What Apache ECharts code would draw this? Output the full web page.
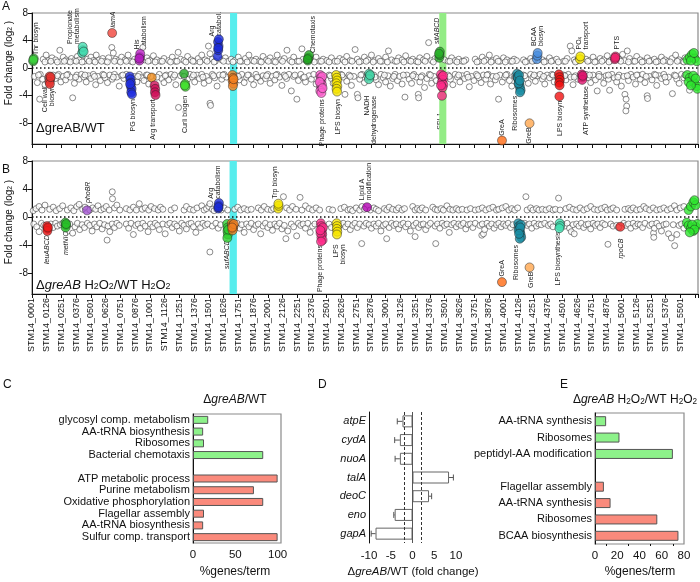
<!DOCTYPE html>
<html>
<head>
<meta charset="utf-8">
<script src="https://cdn.jsdelivr.net/npm/echarts@6.0.0/dist/echarts.min.js"></script>
<style>
  html, body { margin: 0; padding: 0; background: #fff; }
  #chart { width: 700px; height: 582px; }
</style>
</head>
<body>
<div id="chart"></div>
<script>
const FONT = '"Liberation Sans", Arial, Helvetica, sans-serif'

// gene axis (STM14_xxxx), ticks every 125 genes
const geneMax = 5650
const geneStep = 125
const lastGeneLabel = 5500
const fcTicks = [-8, -4, 0, 4, 8]

// ---- panel A: ΔgreAB/WT, all genes (open circles) ----
const openAUp = [
  [95,1.3],[120,1.9],[140,1.1],[170,1.5],[200,1.2],[236,2.6],[250,1.0],[265,1.6],[290,1.2],[310,1.0],[335,1.4],[360,1.1],[385,1.7],[400,1.2],[445,1.0],[470,1.3],[500,1.6],[520,1.1],[545,1.9],[570,1.2],[600,1.4],[625,1.0],[650,1.5],[677,3.0],[690,2.2],[710,1.3],[735,1.1],[760,1.6],[790,1.2],[815,1.9],[840,1.0],[870,1.3],[940,3.0],[955,1.2],[975,1.5],[1000,1.1],[1030,1.8],[1060,1.2],[1090,1.0],[1120,1.4],[1160,1.1],[1190,1.6],[1215,1.0],[1240,2.3],[1260,1.3],[1290,1.1],[1320,1.7],[1350,1.2],[1380,1.0],[1410,1.4],[1440,1.9],[1470,1.2],[1497,3.2],[1510,2.1],[1530,1.3],[1555,1.0],[1610,1.2],[1640,1.5],[1665,1.0],[1690,1.3],[1720,1.1],[1750,1.6],[1780,1.0],[1810,1.4],[1840,1.9],[1870,1.1],[1900,1.3],[1930,1.0],[1960,1.7],[1990,1.2],[2020,1.5],[2050,1.0],[2080,1.9],[2110,1.2],[2140,1.4],[2163,2.6],[2190,1.1],[2220,1.6],[2250,1.0],[2290,2.8],[2300,1.3],[2380,1.2],[2410,1.6],[2440,1.0],[2470,1.3],[2500,1.1],[2540,1.5],[2570,1.0],[2610,1.4],[2640,1.2],[2670,1.7],[2700,1.1],[2741,2.7],[2760,1.3],[2790,1.0],[2820,1.6],[2850,1.2],[2880,1.9],[2910,1.1],[2940,1.4],[2970,1.0],[3000,1.6],[3024,2.5],[3050,1.2],[3080,1.0],[3110,1.5],[3140,1.2],[3170,1.8],[3200,1.1],[3230,1.3],[3260,1.0],[3290,1.5],[3320,1.2],[3350,1.7],[3365,3.7],[3390,1.1],[3420,1.4],[3500,1.2],[3530,1.0],[3560,1.5],[3590,1.1],[3620,1.3],[3650,1.0],[3680,1.2],[3760,1.3],[3790,1.0],[3820,1.6],[3850,1.2],[3880,1.9],[3910,1.1],[3940,1.4],[3970,1.0],[4000,1.5],[4030,1.2],[4060,1.0],[4090,1.3],[4110,1.1],[4170,1.2],[4200,1.0],[4230,1.4],[4260,1.1],[4330,1.2],[4360,1.0],[4390,1.5],[4420,1.1],[4450,1.3],[4510,1.0],[4540,1.4],[4566,3.2],[4580,2.5],[4600,1.2],[4620,1.0],[4700,1.3],[4730,1.1],[4760,1.6],[4790,1.0],[4820,1.4],[4850,1.2],[4880,1.8],[4910,1.1],[4980,1.3],[5010,2.0],[5030,1.1],[5050,2.5],[5070,1.4],[5100,1.0],[5130,1.7],[5160,1.2],[5190,1.0],[5220,1.5],[5250,1.1],[5280,1.3],[5310,1.0],[5340,1.6],[5370,1.2],[5400,1.0],[5430,1.4],[5460,1.9],[5490,1.2],[5520,1.0],[5540,1.5],
  [110,0.9],[160,1.0],[215,0.9],[275,1.0],[325,0.9],[375,1.0],[425,0.9],[485,1.0],[535,0.9],[590,1.0],[640,0.9],[700,1.0],[750,0.9],[800,1.0],[855,0.9],[985,1.0],[1045,0.9],[1105,1.0],[1175,0.9],[1230,1.0],[1305,0.9],[1365,1.0],[1425,0.9],[1485,1.0],[1545,0.9],[1625,1.0],[1705,0.9],[1765,1.0],[1825,0.9],[1885,1.0],[1945,0.9],[2005,1.0],[2065,0.9],[2125,1.0],[2205,0.9],[2265,1.0],[2395,0.9],[2455,1.0],[2520,0.9],[2590,1.0],[2655,0.9],[2715,1.0],[2775,0.9],[2835,1.0],[2895,0.9],[2955,1.0],[3015,0.9],[3095,1.0],[3155,0.9],[3215,1.0],[3275,0.9],[3335,1.0],[3405,0.9],[3545,1.0],[3605,0.9],[3665,1.0],[3775,0.9],[3835,1.0],[3895,0.9],[3955,1.0],[4015,0.9],[4075,1.0],[4185,0.9],[4245,1.0],[4345,0.9],[4405,1.0],[4465,0.9],[4525,1.0],[4610,0.9],[4715,1.0],[4775,0.9],[4835,1.0],[4895,0.9],[4995,1.0],[5060,0.9],[5115,1.0],[5175,0.9],[5235,1.0],[5295,0.9],[5355,1.0],[5415,0.9],[5475,1.0],[5530,0.9]
]
const openALow = [
  [20,-1.2],[45,-2.1],[65,-4.5],[70,-0.9],[90,-1.6],[110,-2.4],[180,-1.0],[200,-1.5],[225,-0.9],[245,-2.0],[265,-1.2],[285,-1.7],[305,-0.9],[325,-1.3],[345,-4.3],[360,-2.2],[380,-1.0],[400,-1.6],[420,-0.9],[440,-1.3],[460,-2.0],[480,-1.1],[500,-1.5],[520,-0.9],[540,-2.4],[560,-1.2],[580,-1.8],[600,-0.9],[620,-1.4],[640,-2.1],[660,-1.0],[680,-1.6],[700,-0.9],[720,-1.3],[740,-2.6],[760,-1.1],[780,-1.5],[800,-0.9],[870,-1.2],[890,-2.0],[910,-0.9],[930,-1.4],[950,-1.8],[970,-1.0],[990,-2.3],[1010,-1.2],[1080,-0.9],[1100,-1.5],[1120,-2.1],[1140,-1.0],[1160,-1.7],[1180,-0.9],[1200,-1.3],[1220,-2.4],[1243,-5.7],[1260,-1.1],[1320,-1.6],[1340,-0.9],[1360,-1.3],[1380,-2.0],[1400,-1.0],[1420,-1.5],[1440,-0.9],[1460,-2.2],[1480,-1.2],[1500,-1.8],[1510,-5.1],[1515,-5.4],[1530,-0.9],[1550,-1.4],[1570,-2.6],[1590,-1.0],[1610,-1.6],[1630,-0.9],[1650,-1.3],[1740,-1.1],[1760,-1.7],[1780,-0.9],[1800,-2.1],[1820,-1.3],[1840,-1.0],[1860,-1.6],[1880,-2.4],[1900,-0.9],[1920,-1.4],[1940,-1.9],[1960,-1.1],[1980,-1.5],[2000,-0.9],[2020,-2.2],[2040,-1.2],[2060,-1.7],[2080,-0.9],[2100,-1.3],[2120,-2.5],[2140,-1.0],[2160,-1.5],[2180,-0.9],[2200,-3.3],[2220,-1.2],[2247,-4.5],[2260,-1.8],[2280,-0.9],[2300,-1.4],[2320,-2.0],[2350,-1.1],[2370,-1.6],[2390,-0.9],[2410,-2.3],[2520,-1.0],[2540,-1.5],[2555,-2.2],[2620,-0.9],[2640,-1.3],[2655,-3.8],[2670,-1.9],[2690,-1.0],[2710,-2.5],[2730,-1.2],[2760,-3.8],[2765,-4.3],[2780,-1.6],[2800,-0.9],[2820,-2.1],[2840,-1.2],[2900,-1.0],[2920,-1.7],[2940,-2.4],[2960,-0.9],[2980,-1.4],[3000,-2.0],[3020,-1.1],[3040,-2.6],[3060,-1.5],[3080,-0.9],[3100,-1.8],[3120,-1.2],[3140,-2.3],[3164,-4.2],[3180,-1.0],[3200,-1.6],[3220,-2.2],[3240,-0.9],[3260,-1.3],[3277,-3.8],[3280,-4.3],[3290,-2.0],[3310,-1.1],[3330,-2.8],[3350,-1.5],[3370,-0.9],[3390,-2.2],[3410,-1.2],[3430,-1.8],[3530,-1.0],[3550,-1.6],[3570,-2.4],[3590,-0.9],[3610,-1.3],[3630,-2.0],[3650,-1.1],[3670,-1.5],[3690,-0.9],[3710,-2.7],[3730,-1.2],[3750,-1.8],[3770,-0.9],[3790,-1.4],[3810,-2.1],[3830,-1.0],[3850,-1.6],[3870,-0.9],[3890,-2.3],[3910,-1.2],[3930,-1.7],[3958,-4.5],[3970,-1.0],[3990,-2.0],[4010,-1.3],[4030,-0.9],[4050,-1.8],[4070,-2.6],[4090,-1.1],[4170,-1.0],[4190,-1.5],[4210,-2.2],[4230,-0.9],[4250,-1.3],[4270,-1.9],[4290,-1.1],[4310,-0.9],[4330,-1.6],[4350,-2.3],[4370,-1.0],[4390,-1.4],[4410,-0.9],[4430,-2.0],[4450,-1.2],[4510,-1.0],[4530,-1.7],[4550,-0.9],[4570,-1.3],[4590,-2.4],[4610,-1.1],[4630,-1.6],[4700,-0.9],[4720,-1.4],[4740,-2.1],[4760,-1.0],[4780,-1.7],[4795,-3.3],[4810,-0.9],[4830,-1.3],[4850,-2.2],[4870,-1.1],[4890,-1.6],[4900,-3.2],[4920,-0.9],[4940,-1.4],[4960,-2.0],[4980,-1.0],[5000,-2.6],[5020,-1.2],[5030,-3.8],[5040,-4.5],[5045,-5.5],[5038,-6.2],[5060,-1.8],[5080,-0.9],[5100,-1.3],[5120,-2.3],[5140,-1.0],[5160,-1.6],[5180,-0.9],[5200,-2.1],[5219,-4.0],[5222,-4.4],[5240,-1.2],[5260,-1.7],[5280,-0.9],[5300,-2.5],[5320,-1.1],[5340,-1.5],[5360,-0.9],[5380,-2.0],[5400,-1.3],[5433,-3.7],[5450,-1.0],[5470,-1.6],[5490,-2.2],[5510,-0.9],[5530,-1.4],[5578,-3.2],
  [55,-1.0],[130,-1.4],[215,-1.1],[295,-1.0],[370,-1.3],[450,-1.0],[530,-1.2],[610,-1.0],[690,-1.3],[770,-1.0],[900,-1.2],[980,-1.0],[1060,-1.3],[1130,-1.1],[1210,-1.0],[1290,-1.2],[1370,-1.0],[1450,-1.3],[1540,-1.1],[1620,-1.0],[1750,-1.2],[1830,-1.0],[1910,-1.3],[1990,-1.1],[2070,-1.0],[2150,-1.2],[2230,-1.0],[2310,-1.3],[2530,-1.1],[2630,-1.0],[2700,-1.2],[2790,-1.0],[2910,-1.3],[2990,-1.0],[3070,-1.2],[3150,-1.0],[3230,-1.1],[3300,-1.3],[3380,-1.0],[3540,-1.2],[3620,-1.0],[3700,-1.3],[3780,-1.1],[3860,-1.0],[3940,-1.2],[4020,-1.0],[4100,-1.3],[4180,-1.1],[4260,-1.0],[4340,-1.2],[4420,-1.0],[4520,-1.1],[4600,-1.3],[4730,-1.0],[4810,-1.2],[4890,-1.0],[4970,-1.3],[5050,-1.1],[5130,-1.0],[5210,-1.2],[5290,-1.0],[5370,-1.3],[5460,-1.1],[5540,-1.0]
]

// panel A highlighted gene groups
const thrA = [[10,1.0],[15,1.4],[12,1.2]]
const cellWallA = [[150,-1.2],[155,-1.6],[148,-2.0],[152,-2.3],[158,-1.3]]
const propionateA = [[425,2.2],[432,2.6],[430,3.1],[438,2.4]]
const iamA = [[680,5.1]]
const hisA = [[912,1.1],[915,1.6],[918,2.1],[910,1.4]]
const pgA = [[830,-1.2],[835,-1.6],[840,-2.1],[838,-2.6],[845,-3.0],[842,-3.5],[848,-3.8],[832,-2.3]]
const argTransA1 = [[1016,-1.35]]
const argTransA2 = [[1040,-2.5],[1045,-3.0],[1043,-3.5],[1048,-3.9]]
const curliA1 = [[1290,-0.8]]
const curliA2 = [[1298,-2.3],[1302,-2.7],[1296,-2.5]]
const argCatA = [[1575,1.7],[1580,2.6],[1583,3.2],[1578,3.8],[1585,4.2],[1580,2.9]]
const spi2A = [[1700,-1.0],[1705,-1.4],[1702,-1.8],[1708,-2.2],[1704,-2.6],[1710,-1.6]]
const chemoA = [[2340,1.1],[2345,1.5],[2350,1.9],[2338,1.3]]
const phageA = [[2445,-1.0],[2450,-1.4],[2455,-1.8],[2448,-2.1],[2460,-2.4],[2452,-2.7],[2458,-3.0],[2446,-3.3],[2455,-3.6],[2462,-1.2],[2440,-2.0],[2465,-2.9]]
const lpsA = [[2580,-1.0],[2585,-1.4],[2588,-1.8],[2582,-2.2],[2590,-2.6],[2584,-3.0],[2588,-3.4]]
const nadhA = [[2860,-0.8],[2865,-1.2],[2858,-1.6],[2868,-1.0]]
const sitA = [[3455,1.5],[3458,1.9],[3460,2.4],[3453,2.1]]
const spi1A = [[3470,-0.9],[3478,-1.3],[3485,-1.7],[3475,-2.1],[3490,-2.4],[3482,-2.8],[3470,-2.5],[3488,-1.1],[3478,-4.0]]
const greA_A = [[3987,-10.5]]
const riboA = [[4115,-0.8],[4120,-1.2],[4125,-1.6],[4130,-2.0],[4135,-2.4],[4140,-2.8],[4145,-3.2],[4140,-3.5],[4122,-1.4],[4132,-1.0],[4128,-2.2],[4138,-1.8]]
const greB_A = [[4221,-8.0]]
const bcaaA = [[4283,1.3],[4287,1.8],[4290,2.2]]
const lps2A = [[4470,-0.9],[4475,-1.3],[4478,-1.7],[4472,-2.1],[4476,-2.5],[4474,-4.1]]
const po4A = [[4648,1.3],[4652,1.7]]
const atpA = [[4665,-0.9],[4670,-1.3],[4668,-1.7],[4672,-1.1]]
const ptsA = [[4945,1.3],[4950,1.7],[4948,1.5]]
const flagA = [[5560,1.2],[5580,1.6],[5600,2.0],[5620,1.4],[5640,1.0],[5590,1.1],[5615,2.2],
  [5560,-1.0],[5580,-1.4],[5600,-1.8],[5620,-2.2],[5640,-2.6],[5570,-2.0],[5610,-1.1],[5630,-1.5],[5645,-3.0],[5590,-2.5]]

// ---- panel B: ΔgreAB H2O2/WT H2O2 ----
const openBUp = [
  [10,0.9],[35,1.2],[60,1.5],[85,1.0],[110,1.7],[150,1.1],[180,1.4],[205,0.9],[235,1.2],[260,1.6],[300,1.0],[330,1.3],[355,0.9],[380,1.5],[400,1.8],[430,1.1],[450,1.4],[490,1.0],[515,1.3],[540,1.1],[560,1.6],[585,1.0],[610,1.2],[630,1.5],[655,1.0],[681,3.6],[683,2.6],[700,1.3],[720,1.7],[745,1.0],[800,1.2],[830,1.0],[860,1.4],[885,1.0],[910,1.9],[935,1.1],[960,1.3],[990,1.0],[1010,1.5],[1040,1.2],[1070,1.0],[1090,1.4],[1110,1.1],[1180,1.0],[1210,1.3],[1290,1.0],[1310,1.5],[1340,1.1],[1370,1.0],[1400,1.3],[1440,1.6],[1460,1.0],[1480,1.2],[1500,1.5],[1509,1.9],[1530,1.1],[1545,0.9],[1605,1.0],[1630,1.3],[1660,1.0],[1720,1.1],[1745,1.4],[1770,1.0],[1800,1.2],[1830,1.0],[1860,1.1],[1920,1.3],[1945,1.0],[1970,1.5],[2000,1.1],[2030,1.0],[2050,1.2],[2133,2.9],[2160,1.3],[2185,1.0],[2210,1.5],[2240,1.1],[2274,2.8],[2290,1.0],[2320,1.6],[2350,1.2],[2380,1.0],[2410,1.3],[2440,1.0],[2520,1.1],[2550,1.0],[2620,1.2],[2650,1.4],[2680,1.0],[2700,1.1],[2720,0.9],[2750,1.3],[2780,1.0],[2800,1.5],[2820,1.1],[2870,1.0],[2900,1.3],[2920,1.1],[2940,0.9],[2990,1.2],[3010,1.0],[3030,1.4],[3060,1.1],[3090,1.0],[3110,1.3],[3140,1.0],[3160,1.2],[3230,1.5],[3250,1.0],[3270,1.2],[3290,1.0],[3310,1.3],[3340,1.0],[3400,1.4],[3420,1.1],[3440,1.0],[3470,1.2],[3490,1.0],[3520,1.6],[3545,1.1],[3570,1.0],[3600,1.2],[3620,1.0],[3650,1.1],[3690,1.0],[3720,1.2],[3760,1.0],[3790,1.1],[3820,1.3],[3850,1.0],[3880,1.2],[3910,1.4],[3940,1.0],[3960,1.1],[3990,1.3],[4020,1.5],[4045,1.0],[4070,1.2],[4095,1.0],[4120,1.3],[4190,2.9],[4200,1.0],[4230,1.3],[4250,1.0],[4280,1.2],[4300,1.0],[4330,1.1],[4360,1.0],[4390,1.2],[4420,1.0],[4440,1.1],[4467,2.7],[4480,1.0],[4530,1.2],[4560,1.4],[4590,1.1],[4620,1.0],[4650,1.3],[4680,1.0],[4710,1.2],[4740,1.5],[4770,1.1],[4800,1.0],[4830,1.2],[4860,1.4],[4880,1.0],[4910,1.1],[4930,1.3],[4960,1.0],[5030,1.1],[5060,1.2],[5080,1.0],[5100,1.3],[5130,1.0],[5160,1.1],[5190,1.5],[5210,1.2],[5240,1.0],[5270,1.3],[5300,1.0],[5330,1.1],[5360,1.3],[5390,1.0],[5420,1.2],[5450,1.6],[5470,1.0],[5500,1.3],[5530,1.5]
]
const openBLow = [
  [15,-1.0],[40,-1.4],[60,-2.1],[80,-0.9],[100,-1.2],[160,-1.0],[180,-1.5],[200,-0.9],[215,-1.3],[240,-1.1],[260,-0.9],[320,-1.0],[345,-2.3],[365,-1.4],[385,-0.9],[405,-1.8],[425,-1.1],[445,-1.5],[470,-0.9],[490,-1.2],[510,-2.0],[530,-1.0],[550,-1.4],[575,-0.9],[595,-1.7],[615,-1.1],[637,-3.3],[645,-1.3],[660,-2.1],[680,-1.0],[700,-1.5],[720,-0.9],[740,-1.2],[800,-1.0],[820,-1.6],[840,-0.9],[860,-2.5],[880,-1.2],[900,-1.0],[920,-1.6],[940,-0.9],[960,-1.3],[985,-2.1],[1005,-1.0],[1025,-1.4],[1045,-0.9],[1065,-1.2],[1080,-1.8],[1110,-1.0],[1130,-2.4],[1150,-1.1],[1170,-0.9],[1190,-1.5],[1210,-1.0],[1230,-1.3],[1250,-2.0],[1270,-0.9],[1290,-1.2],[1310,-1.7],[1330,-1.0],[1350,-0.9],[1370,-1.4],[1390,-2.2],[1410,-1.0],[1430,-1.5],[1450,-0.9],[1470,-1.2],[1490,-1.0],[1509,-5.0],[1530,-1.3],[1560,-0.9],[1580,-1.6],[1600,-1.1],[1720,-1.2],[1740,-0.9],[1760,-1.6],[1780,-1.1],[1800,-2.2],[1820,-1.0],[1840,-1.4],[1860,-0.9],[1880,-1.8],[1900,-1.2],[1920,-1.0],[1940,-2.4],[1960,-1.3],[1980,-0.9],[2000,-1.5],[2020,-1.1],[2040,-1.9],[2060,-1.0],[2080,-1.3],[2100,-0.9],[2120,-1.7],[2140,-1.2],[2154,-3.1],[2170,-2.0],[2200,-1.0],[2220,-1.4],[2245,-2.7],[2260,-0.9],[2280,-1.2],[2300,-1.0],[2320,-1.6],[2340,-0.9],[2360,-2.2],[2380,-1.3],[2400,-1.0],[2520,-1.0],[2540,-1.5],[2620,-1.1],[2640,-0.9],[2660,-1.4],[2680,-1.0],[2700,-1.8],[2720,-1.2],[2740,-0.9],[2760,-1.5],[2780,-1.0],[2797,-3.8],[2815,-1.3],[2835,-0.9],[2860,-1.1],[2880,-1.6],[2900,-1.0],[2920,-1.3],[2940,-0.9],[2960,-2.0],[2980,-1.2],[3000,-1.0],[3009,-3.1],[3030,-1.5],[3050,-0.9],[3070,-1.2],[3090,-1.0],[3110,-1.7],[3130,-1.1],[3150,-0.9],[3170,-1.4],[3190,-1.0],[3210,-2.0],[3250,-2.8],[3240,-1.2],[3260,-0.9],[3280,-1.5],[3300,-1.1],[3320,-1.0],[3340,-1.8],[3360,-1.2],[3380,-0.9],[3425,-3.8],[3420,-1.3],[3440,-1.0],[3460,-1.6],[3480,-0.9],[3500,-1.2],[3520,-1.0],[3540,-2.2],[3560,-1.1],[3580,-0.9],[3600,-1.4],[3620,-1.0],[3640,-1.2],[3660,-0.9],[3680,-1.7],[3700,-1.1],[3720,-1.0],[3740,-1.5],[3760,-0.9],[3816,-2.6],[3830,-2.4],[3800,-1.2],[3820,-1.0],[3840,-1.8],[3860,-0.9],[3880,-1.3],[3900,-1.0],[3920,-1.6],[3940,-1.1],[3960,-0.9],[3980,-1.4],[4000,-1.0],[4020,-1.2],[4040,-0.9],[4060,-1.5],[4080,-1.1],[4180,-0.9],[4200,-1.2],[4220,-1.0],[4240,-1.6],[4260,-0.9],[4280,-1.3],[4300,-1.0],[4320,-1.1],[4350,-0.9],[4380,-1.2],[4400,-1.0],[4420,-1.4],[4500,-1.0],[4520,-1.3],[4540,-0.9],[4560,-1.6],[4575,-2.1],[4590,-1.1],[4600,-2.4],[4620,-1.0],[4640,-1.3],[4660,-0.9],[4680,-1.5],[4700,-1.1],[4720,-1.0],[4740,-1.7],[4760,-0.9],[4780,-1.2],[4800,-1.0],[4820,-1.5],[4840,-0.9],[4860,-1.1],[4886,-3.9],[4910,-1.0],[4930,-1.3],[4960,-1.2],[4975,-1.5],[5020,-0.9],[5040,-1.2],[5060,-1.0],[5080,-1.6],[5100,-0.9],[5120,-1.3],[5140,-1.0],[5160,-1.1],[5180,-1.5],[5200,-0.9],[5273,-2.3],[5275,-2.9],[5240,-1.2],[5260,-1.0],[5280,-1.6],[5300,-0.9],[5320,-1.3],[5340,-2.0],[5360,-1.1],[5380,-1.0],[5400,-2.4],[5424,-3.0],[5440,-1.1],[5452,-4.1],[5470,-2.5],[5490,-1.2],[5510,-1.0],[5530,-1.6]
]

// panel B highlighted gene groups
const leuB = [[128,-1.3],[132,-1.7],[130,-2.0],[135,-1.5]]
const metB = [[283,-0.8],[288,-1.2],[285,-1.5],[290,-1.0]]
const phoBRB = [[467,0.95]]
const argCatB = [[1580,1.2],[1583,1.6],[1586,2.0],[1582,1.4]]
const sufB = [[1655,-1.0],[1660,-1.5],[1658,-2.0],[1662,-2.5],[1657,-3.0],[1665,-1.8]]
const spi2B = [[1695,-0.9],[1700,-1.2],[1705,-1.6],[1710,-1.3],[1702,-1.9],[1712,-1.0],[1698,-1.5]]
const trpB = [[2088,1.2],[2092,1.6],[2090,1.9]]
const phageB = [[2450,-0.9],[2455,-1.3],[2460,-1.7],[2458,-2.1],[2462,-2.5],[2455,-2.9],[2465,-3.3],[2448,-2.3],[2468,-1.5],[2452,-3.5],[2446,-1.9]]
const lpsB = [[2585,-0.9],[2588,-1.3],[2586,-1.7],[2590,-2.1],[2587,-2.5]]
const lipidB = [[2842,1.4]]
const greA_B = [[3987,-9.3]]
const riboB = [[4125,-0.9],[4130,-1.3],[4135,-1.7],[4140,-2.1],[4145,-2.5],[4150,-2.9],[4138,-3.1],[4128,-1.9],[4148,-1.1],[4142,-1.5],[4132,-2.4]]
const greB_B = [[4221,-7.2]]
const lpsBioB = [[4476,-0.9],[4480,-1.3],[4474,-1.6]]
const rpoCBB = [[4991,-1.4]]
const flagB = [[5570,1.0],[5590,1.5],[5610,2.1],[5630,1.7],[5620,2.4],
  [5555,-0.8],[5570,-1.2],[5590,-1.6],[5610,-2.0],[5630,-1.4],[5645,-1.0],[5600,-1.1],[5620,-1.8],[5580,-2.2]]

// ---- panel C ----
const cTermsUp = ['glycosyl comp. metabolism', 'AA-tRNA biosynthesis', 'Ribosomes', 'Bacterial chemotaxis']
const cValsUp = [18, 12, 13, 83]
const cTermsDown = ['ATP metabolic process', 'Purine metabolism', 'Oxidative phosphorylation', 'Flagellar assembly', 'AA-tRNA biosynthesis', 'Sulfur comp. transport']
const cValsDown = [100, 72, 83, 13, 12, 100]

// ---- panel D ----
const dGenes = ['atpE', 'cydA', 'nuoA', 'talA', 'deoC', 'eno', 'gapA']
const dFold = [-2.3, -2.9, -2.9, 8.4, 3.8, -4.1, -8.5]
const dErr = [1.2, 1.2, 1.1, 1.0, 0.6, 0.2, 1.0]

// ---- panel E ----
const eTermsUp = ['AA-tRNA synthesis', 'Ribosomes', 'peptidyl-AA modification']
const eValsUp = [10, 22, 70]
const eTermsDown = ['Flagellar assembly', 'AA-tRNA synthesis', 'Ribosomes', 'BCAA biosynthesis']
const eValsDown = [8, 14, 56, 75]

// 颜色
const GREEN = '#8df28a'
const RED = '#fa8a7c'

const groupsA = [
  [thrA, '#3ccf3c'], [cellWallA, '#e8332f'], [propionateA, '#45dcb0'], [iamA, '#f0443a'],
  [hisA, '#b51ec0'], [pgA, '#1f2ee0'], [argTransA1, '#f08c1a'], [argTransA2, '#d0105a'],
  [curliA1, '#22aa22'], [curliA2, '#44e030'], [argCatA, '#1a2ad8'], [spi2A, '#f58220'],
  [chemoA, '#22a822'], [phageA, '#ff5fd0'], [lpsA, '#f7e600'], [nadhA, '#45d6a8'],
  [sitA, '#28b028'], [spi1A, '#ff2a8a'], [greA_A, '#ff6a13'], [riboA, '#1a8fa5'],
  [greB_A, '#ffa64d'], [bcaaA, '#4a8fe0'], [lps2A, '#f01010'], [po4A, '#f5e600'],
  [atpA, '#e0156f'], [ptsA, '#f0206e'], [flagA, '#2ee62e']
]
const groupsB = [
  [leuB, '#f01a1a'], [metB, '#28c028'], [phoBRB, '#a050d0'], [argCatB, '#1a2ad8'],
  [sufB, '#30d030'], [spi2B, '#f08020'], [trpB, '#f5e600'], [phageB, '#ff2a8a'],
  [lpsB, '#f7e600'], [lipidB, '#b000b0'], [greA_B, '#ff6a13'], [riboB, '#1a8fa5'],
  [greB_B, '#ffa64d'], [lpsBioB, '#40e0b0'], [rpoCBB, '#f02020'], [flagB, '#2ee62e']
]

// rotated annotations: text, gene, fold change, up/down, italic
const labelsA = [
  ['Thr biosyn', 35, 1.9, 'up'], ['Cell wall\nbiosyn', 142, -2.6, 'down'],
  ['Propionate\nmetabolism', 356, 3.5, 'up'], ['iamA', 684, 5.9, 'up', true],
  ['His\ncatabolism', 917, 2.7, 'up'], ['PG biosyn', 860, -4.5, 'down'],
  ['Arg transport', 1030, -4.5, 'down'], ['Curli biogen', 1297, -4.0, 'down'],
  ['Arg\ncatabol.', 1561, 4.6, 'up'], ['SPI-2', 1705, -4.5, 'down'],
  ['Chemotaxis', 2388, 2.2, 'up'], ['Phage proteins', 2459, -4.5, 'down'],
  ['LPS biosyn', 2598, -4.5, 'down'], ['NADH\ndehydrogenase', 2870, -4.0, 'down'],
  ['sitABCD', 3437, 3.5, 'up', true], ['SPI-1', 3465, -6.4, 'down'],
  ['GreA', 3989, -9.8, 'up'], ['Ribosomes', 4101, -4.0, 'down'],
  ['GreB', 4221, -8.6, 'down'], ['BCAA\nbiosyn', 4285, 3.2, 'up'],
  ['LPS biosyn', 4482, -4.7, 'down'], ['PO{s|4}\ntransport', 4673, 2.7, 'up'],
  ['ATP synthetase', 4697, -2.6, 'down'], ['PTS', 4960, 2.7, 'up']
]
const labelsB = [
  ['leuABCD', 131, -2.6, 'down', true], ['metNIQ', 292, -2.0, 'down', true],
  ['phoBR', 479, 2.0, 'up', true], ['Arg\ncatabolism', 1549, 2.6, 'up'],
  ['sufABCD', 1652, -3.3, 'down', true], ['SPI-2', 1709, -3.4, 'down'],
  ['Trp biosyn', 2061, 2.6, 'up'], ['Phage proteins', 2443, -4.0, 'down'],
  ['LPS\nbiosyn', 2605, -3.9, 'down'], ['Lipid A\nmodification', 2826, 2.4, 'up'],
  ['GreA', 3989, -8.5, 'up'], ['Ribosomes', 4108, -4.0, 'down'],
  ['GreB', 4230, -7.8, 'down'], ['LPS biosynthesis', 4467, -2.1, 'down'],
  ['rpoCB', 5000, -3.1, 'down', true]
]

const axisColor = '#111'
const geneLabel = v => (v % geneStep === 0 && v <= lastGeneLabel) ? 'STM14_' + String(v + 1).padStart(4, '0') : ''

const geneXAxis = (gridIndex, showLabel) => ({
  gridIndex, type: 'value', min: 0, max: geneMax, interval: geneStep,
  axisLine: { onZero: false, lineStyle: { color: axisColor } },
  axisTick: { length: 4, lineStyle: { color: axisColor } },
  axisLabel: { show: showLabel, rotate: 90, fontSize: 9, color: axisColor, margin: 4, formatter: geneLabel },
  splitLine: { show: false }
})
const fcYAxis = gridIndex => ({
  gridIndex, type: 'value', min: -11, max: 8,
  axisLine: { show: true, onZero: false, lineStyle: { color: axisColor } },
  axisTick: { show: true, length: 4, customValues: fcTicks, lineStyle: { color: axisColor } },
  axisLabel: { fontSize: 10, color: axisColor, margin: 4, customValues: fcTicks },
  splitLine: { show: false }
})
const catYAxis = (gridIndex, names, italic) => ({
  gridIndex, type: 'category', inverse: true, data: names.map((_, i) => String(i)),
  axisLine: { onZero: false, lineStyle: { color: axisColor } },
  axisTick: { alignWithLabel: true, length: 4, interval: 0, lineStyle: { color: axisColor } },
  axisLabel: { interval: 0, fontSize: 11, color: axisColor, margin: 3, fontStyle: italic ? 'italic' : 'normal',
    formatter: (v, i) => names[i] }
})

const openStyle = { color: '#fff', borderColor: '#333', borderWidth: 0.7 }
const openSeries = (idx, data) => ({
  type: 'scatter', xAxisIndex: idx, yAxisIndex: idx, data, symbolSize: 6, itemStyle: openStyle, z: 3, silent: true
})
const groupSeries = (idx, groups) => groups.map(([data, color]) => ({
  type: 'scatter', xAxisIndex: idx, yAxisIndex: idx, data, symbolSize: 9, z: 4, silent: true,
  itemStyle: { color, borderColor: '#222', borderWidth: 0.6 }
}))
const bandSeries = (idx, bands) => ({
  type: 'line', xAxisIndex: idx, yAxisIndex: idx, data: [], z: 1, silent: true,
  markArea: { silent: true, data: bands.map(([a, b, color]) => [{ xAxis: a, itemStyle: { color, opacity: 1 } }, { xAxis: b }]) },
  markLine: { silent: true, symbol: 'none', label: { show: false },
    lineStyle: { color: '#111', type: [1.5, 2.5], width: 1.5 }, data: [{ yAxis: 0 }] }
})
const termBars = (idx, up, down, barWidth) => ({
  type: 'bar', xAxisIndex: idx, yAxisIndex: idx, barWidth, silent: true,
  data: [...up.map(v => ({ value: v, itemStyle: { color: GREEN } })), '-',
         ...down.map(v => ({ value: v, itemStyle: { color: RED } }))],
  itemStyle: { borderColor: '#555', borderWidth: 1 }
})

const cNames = [...cTermsUp, '', ...cTermsDown]
const eNames = [...eTermsUp, '', ...eTermsDown]

const option = {
  animation: false,
  textStyle: { fontFamily: FONT },
  grid: [
    { left: 32, top: 13, width: 666, height: 131, show: true, borderColor: '#8a8a8a', borderWidth: 1.2 },
    { left: 32, top: 161, width: 666, height: 133, show: true, borderColor: '#8a8a8a', borderWidth: 1.2 },
    { left: 193, top: 414, width: 88, height: 129, show: true, borderColor: '#8a8a8a', borderWidth: 1.2 },
    { left: 369, top: 412, width: 87, height: 131 },
    { left: 595, top: 413, width: 89, height: 131, show: true, borderColor: '#8a8a8a', borderWidth: 1.2 }
  ],
  xAxis: [
    geneXAxis(0, false),
    geneXAxis(1, true),
    { gridIndex: 2, type: 'value', min: 0, max: 104, splitLine: { show: false },
      axisLine: { onZero: false, lineStyle: { color: axisColor } },
      axisTick: { length: 4, customValues: [0, 25, 50, 75, 100], lineStyle: { color: axisColor } },
      axisLabel: { customValues: [0, 50, 100], fontSize: 11.5, color: axisColor, margin: 6 } },
    { gridIndex: 3, type: 'value', min: -10, max: 10, interval: 5, splitLine: { show: false },
      axisLine: { onZero: false, lineStyle: { color: axisColor } },
      axisTick: { length: 4, lineStyle: { color: axisColor } },
      axisLabel: { fontSize: 11.5, color: axisColor, margin: 7 } },
    { gridIndex: 4, type: 'value', min: 0, max: 80, interval: 20, splitLine: { show: false },
      axisLine: { onZero: false, lineStyle: { color: axisColor } },
      axisTick: { length: 4, lineStyle: { color: axisColor } },
      minorTick: { show: true, splitNumber: 2, length: 2, lineStyle: { color: axisColor } },
      axisLabel: { fontSize: 11.5, color: axisColor, margin: 6 } }
  ],
  yAxis: [
    fcYAxis(0),
    fcYAxis(1),
    catYAxis(2, cNames),
    catYAxis(3, dGenes, true),
    catYAxis(4, eNames)
  ],
  series: [
    bandSeries(0, [[1680, 1740, '#57eded'], [3455, 3515, '#93ec85']]),
    bandSeries(1, [[1676, 1738, '#57eded']]),
    openSeries(0, openAUp.concat(openALow)),
    openSeries(1, openBUp.concat(openBLow)),
    ...groupSeries(0, groupsA),
    ...groupSeries(1, groupsB),
    termBars(2, cValsUp, cValsDown, 8),
    {
      type: 'bar', xAxisIndex: 3, yAxisIndex: 3, barWidth: 12, silent: true, data: dFold,
      itemStyle: { color: '#fff', borderColor: '#666', borderWidth: 1 },
      markLine: { silent: true, symbol: 'none', label: { show: false },
        data: [
          { xAxis: 0, lineStyle: { color: '#555', type: 'solid', width: 1 } },
          { xAxis: -2, lineStyle: { color: '#333', type: [3, 2], width: 1 } },
          { xAxis: 2, lineStyle: { color: '#333', type: [3, 2], width: 1 } }
        ] }
    },
    {
      // error bars
      type: 'custom', xAxisIndex: 3, yAxisIndex: 3, silent: true, z: 5,
      data: dFold.map((v, i) => [i, v, v + Math.sign(v) * dErr[i]]),
      encode: { x: [1, 2], y: 0 },
      renderItem: (params, api) => {
        const a = api.coord([api.value(1), api.value(0)])
        const b = api.coord([api.value(2), api.value(0)])
        const st = { stroke: '#555', lineWidth: 1 }
        return { type: 'group', children: [
          { type: 'line', shape: { x1: a[0], y1: a[1], x2: b[0], y2: b[1] }, style: st },
          { type: 'line', shape: { x1: b[0], y1: b[1] - 3, x2: b[0], y2: b[1] + 3 }, style: st }
        ] }
      }
    },
    termBars(4, eValsUp, eValsDown, 10)
  ]
}

const chart = echarts.init(document.getElementById('chart'))
chart.setOption(option)

// text helpers
const richFor = size => ({
  i: { fontStyle: 'italic', fontSize: size, fontFamily: FONT, fill: '#111' },
  s: { fontSize: size * 0.68, fontFamily: FONT, fill: '#111', verticalAlign: 'bottom', padding: [0, 0, 0, 0] }
})
const text = (x, y, str, size, align, extra) => ({
  type: 'text', x, y, silent: true,
  style: Object.assign({ text: str, fontSize: size, fontFamily: FONT, fill: '#111', align: align || 'left',
    verticalAlign: 'middle', rich: richFor(size) }, extra || {})
})
const vertical = (x, y, str, size) => Object.assign(text(x, y, str, size, 'center'), { rotation: Math.PI / 2 })

const annot = (list, gridIndex) => list.map(([str, g, fc, dir, italic]) => {
  const [x, y] = chart.convertToPixel({ gridIndex }, [g, fc])
  const t = text(x, y, str, 7, dir === 'up' ? 'left' : 'right', { fill: '#222', fontStyle: italic ? 'italic' : 'normal' })
  t.rotation = Math.PI / 2
  return t
})

chart.setOption({
  graphic: [
    text(2, 7, 'A', 12), text(2, 170, 'B', 12),
    text(3, 385, 'C', 12), text(318, 385, 'D', 12), text(560, 385, 'E', 12),
    vertical(9, 63, 'Fold change (log{s|2} )', 10),
    vertical(9, 222, 'Fold change (log{s|2} )', 10),
    text(36, 128, 'ΔgreAB/WT', 13),
    text(36, 285, 'Δ{i|greAB} H{s|2}O{s|2}/WT H{s|2}O{s|2}', 13),
    text(235, 400, 'Δ{i|greAB}/WT', 12, 'center'),
    text(635, 400, 'Δ{i|greAB} H{s|2}O{s|2}/WT H{s|2}O{s|2}', 12, 'center'),
    text(235, 572, '%genes/term', 12, 'center'),
    text(640, 572, '%genes/term', 12, 'center'),
    text(413, 572, 'Δ{i|greAB}/WT (fold change)', 11.5, 'center'),
    ...annot(labelsA, 0),
    ...annot(labelsB, 1)
  ]
})
</script>
</body>
</html>
